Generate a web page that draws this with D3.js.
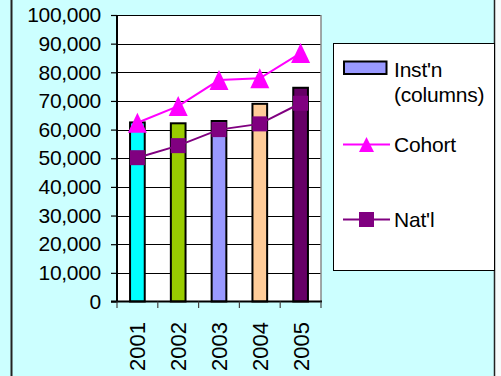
<!DOCTYPE html>
<html>
<head>
<meta charset="utf-8">
<script src="https://cdn.jsdelivr.net/npm/d3@7"></script>
<style>
  html, body { margin: 0; padding: 0; background: #f7fbfb; }
  svg { display: block; }
  text { font-family: "Liberation Sans", Arial, sans-serif; fill: #000; }
</style>
</head>
<body>
<svg id="chart" width="501" height="376"></svg>
<script>
// Yearly figures: institution columns, cohort and national lines
const years = ["2001", "2002", "2003", "2004", "2005"];
const instValues = [62500, 62200, 63000, 69000, 74600];
const cohortValues = [62400, 68200, 77300, 77900, 86700];
const natlValues = [50200, 54400, 60000, 62000, 69200];
const barColors = ["#00FFFF", "#99CC00", "#9999FF", "#FFCC99", "#660066"];
const yTicks = [0, 10000, 20000, 30000, 40000, 50000, 60000, 70000, 80000, 90000, 100000];
const legendLabels = ["Inst'n", "(columns)", "Cohort", "Nat'l"];

const svg = d3.select("#chart");
const W = 501, H = 376;
const plot = { left: 117, right: 321, top: 15, bottom: 301.5 };

// Chart area background and frame
svg.append("rect").attr("x", 0).attr("y", 0).attr("width", 494.5).attr("height", H)
  .attr("fill", "#CCFFFF");
svg.append("line").attr("x1", 11.5).attr("x2", 11.5).attr("y1", 0).attr("y2", H)
  .attr("stroke", "#222").attr("stroke-width", 2);
svg.append("line").attr("x1", 494.5).attr("x2", 494.5).attr("y1", 0).attr("y2", H)
  .attr("stroke", "#222").attr("stroke-width", 1.5);

const x = d3.scaleBand().domain(years).range([plot.left, plot.right]).padding(0);
const y = d3.scaleLinear().domain([0, 100000]).range([plot.bottom, plot.top]);

// Plot area
svg.append("rect").attr("x", plot.left).attr("y", plot.top)
  .attr("width", plot.right - plot.left).attr("height", plot.bottom - plot.top)
  .attr("fill", "#fff");

// Gridlines
svg.append("g").selectAll("line").data(yTicks.filter(d => d > 0)).join("line")
  .attr("x1", plot.left).attr("x2", plot.right)
  .attr("y1", d => Math.round(y(d)) + 0.5).attr("y2", d => Math.round(y(d)) + 0.5)
  .attr("stroke", "#000").attr("stroke-width", 1);
svg.append("line").attr("x1", plot.right).attr("x2", plot.right)
  .attr("y1", plot.top).attr("y2", plot.bottom).attr("stroke", "#888").attr("stroke-width", 1.5);

// Y axis
const yAxis = d3.axisLeft(y).tickValues(yTicks).tickSize(6).tickPadding(10)
  .tickFormat(d3.format(","));
const gy = svg.append("g").attr("transform", `translate(${plot.left},0)`).call(yAxis);
gy.select(".domain").remove();
gy.selectAll(".tick line").attr("stroke", "#000").attr("stroke-width", 1.2);
gy.selectAll(".tick text").attr("font-size", "21px").attr("letter-spacing", "-0.3px")
  .style("font-family", "'Liberation Sans', Arial, sans-serif");
svg.append("line").attr("x1", plot.left).attr("x2", plot.left)
  .attr("y1", plot.top).attr("y2", plot.bottom + 1).attr("stroke", "#000").attr("stroke-width", 2);

// Columns
svg.append("g").selectAll("rect").data(years).join("rect")
  .attr("x", d => x(d) + x.bandwidth() * 0.32)
  .attr("width", x.bandwidth() * 0.36)
  .attr("y", (d, i) => y(instValues[i]))
  .attr("height", (d, i) => y(0) - y(instValues[i]))
  .attr("fill", (d, i) => barColors[i])
  .attr("stroke", "#000").attr("stroke-width", 2);

// X axis line and category boundary ticks
svg.append("line").attr("x1", plot.left - 6).attr("x2", plot.right + 1)
  .attr("y1", plot.bottom).attr("y2", plot.bottom).attr("stroke", "#000").attr("stroke-width", 2);
const bounds = years.map(d => x(d)).concat([x.range()[1]]);
svg.append("g").selectAll("line").data(bounds).join("line")
  .attr("x1", d => d).attr("x2", d => d)
  .attr("y1", plot.bottom).attr("y2", plot.bottom + 6.5)
  .attr("stroke", "#444").attr("stroke-width", 1.2);

// Rotated year labels
svg.append("g").selectAll("text").data(years).join("text")
  .attr("transform", d => `translate(${x(d) + x.bandwidth() / 2 + 8},322) rotate(-90)`)
  .attr("text-anchor", "end")
  .attr("font-size", "22px")
  .text(d => d);

// Lines with markers
const line = d3.line().x(d => d[0]).y(d => d[1]);
const cohortPts = years.map((d, i) => [x(d) + x.bandwidth() / 2, y(cohortValues[i])]);
const natlPts = years.map((d, i) => [x(d) + x.bandwidth() / 2, y(natlValues[i])]);

svg.append("path").attr("d", line(natlPts)).attr("fill", "none")
  .attr("stroke", "#800080").attr("stroke-width", 2);
svg.append("g").selectAll("rect").data(natlPts).join("rect")
  .attr("x", d => d[0] - 7.5).attr("y", d => d[1] - 7.5)
  .attr("width", 15).attr("height", 15).attr("fill", "#800080");

svg.append("path").attr("d", line(cohortPts)).attr("fill", "none")
  .attr("stroke", "#FF00FF").attr("stroke-width", 2);
const tri = (cx, cy, w, h) => `M${cx},${cy - h / 2}L${cx + w / 2},${cy + h / 2}L${cx - w / 2},${cy + h / 2}Z`;
svg.append("g").selectAll("path").data(cohortPts).join("path")
  .attr("d", d => tri(d[0], d[1], 19, 20)).attr("fill", "#FF00FF");

// Legend
const lg = svg.append("g");
lg.append("rect").attr("x", 333.5).attr("y", 43.5).attr("width", 161).attr("height", 227)
  .attr("fill", "#fff").attr("stroke", "#000").attr("stroke-width", 1);
lg.append("rect").attr("x", 344).attr("y", 61.5).attr("width", 42.5).attr("height", 12.5)
  .attr("fill", "#9999FF").attr("stroke", "#000").attr("stroke-width", 2);
lg.append("line").attr("x1", 343).attr("x2", 390).attr("y1", 144.5).attr("y2", 144.5)
  .attr("stroke", "#FF00FF").attr("stroke-width", 2);
lg.append("path").attr("d", tri(366.5, 144.5, 15, 15)).attr("fill", "#FF00FF");
lg.append("line").attr("x1", 343).attr("x2", 390).attr("y1", 219.5).attr("y2", 219.5)
  .attr("stroke", "#800080").attr("stroke-width", 2);
lg.append("rect").attr("x", 359).attr("y", 212).attr("width", 15).attr("height", 15)
  .attr("fill", "#800080");
const legendY = [76.5, 101.5, 151.5, 226.5];
lg.selectAll("text").data(legendLabels).join("text")
  .attr("x", 394).attr("y", (d, i) => legendY[i])
  .attr("font-size", "21px").attr("letter-spacing", "-0.2px")
  .text(d => d);
</script>
</body>
</html>
